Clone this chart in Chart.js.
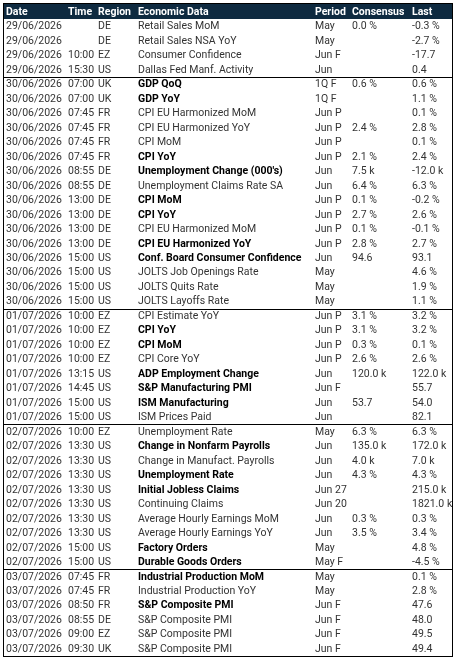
<!DOCTYPE html>
<html>
<head>
<meta charset="utf-8">
<script src="https://cdn.jsdelivr.net/npm/chart.js@4.4.1/dist/chart.umd.min.js"></script>
<style>
  html, body { margin: 0; padding: 0; background: #fff; }
  #wrap { width: 458px; height: 658px; }
</style>
</head>
<body>
<div id="wrap"><canvas id="c"></canvas></div>
<script>
const headers = ['Date', 'Time', 'Region', 'Economic Data', 'Period', 'Consensus', 'Last'];

const dates = [
    '29/06/2026','29/06/2026','29/06/2026','29/06/2026',
    '30/06/2026','30/06/2026','30/06/2026','30/06/2026','30/06/2026','30/06/2026','30/06/2026','30/06/2026',
    '30/06/2026','30/06/2026','30/06/2026','30/06/2026','30/06/2026','30/06/2026','30/06/2026','30/06/2026',
    '01/07/2026','01/07/2026','01/07/2026','01/07/2026','01/07/2026','01/07/2026','01/07/2026','01/07/2026',
    '02/07/2026','02/07/2026','02/07/2026','02/07/2026','02/07/2026','02/07/2026','02/07/2026','02/07/2026','02/07/2026','02/07/2026',
    '03/07/2026','03/07/2026','03/07/2026','03/07/2026','03/07/2026','03/07/2026'
];
const times = [
    '','','10:00','15:30',
    '07:00','07:00','07:45','07:45','07:45','07:45','08:55','08:55','13:00','13:00','13:00','13:00','15:00','15:00','15:00','15:00',
    '10:00','10:00','10:00','10:00','13:15','14:45','15:00','15:00',
    '10:00','13:30','13:30','13:30','13:30','13:30','13:30','13:30','15:00','15:00',
    '07:45','07:45','08:50','08:55','09:00','09:30'
];
const regions = [
    'DE','DE','EZ','US',
    'UK','UK','FR','FR','FR','FR','DE','DE','DE','DE','DE','DE','US','US','US','US',
    'EZ','EZ','EZ','EZ','US','US','US','US',
    'EZ','US','US','US','US','US','US','US','US','US',
    'FR','FR','FR','DE','EZ','UK'
];
const events = [
    'Retail Sales MoM','Retail Sales NSA YoY','Consumer Confidence','Dallas Fed Manf. Activity',
    'GDP QoQ','GDP YoY','CPI EU Harmonized MoM','CPI EU Harmonized YoY','CPI MoM','CPI YoY',
    'Unemployment Change (000\'s)','Unemployment Claims Rate SA','CPI MoM','CPI YoY','CPI EU Harmonized MoM',
    'CPI EU Harmonized YoY','Conf. Board Consumer Confidence','JOLTS Job Openings Rate','JOLTS Quits Rate','JOLTS Layoffs Rate',
    'CPI Estimate YoY','CPI YoY','CPI MoM','CPI Core YoY','ADP Employment Change','S&P Manufacturing PMI','ISM Manufacturing','ISM Prices Paid',
    'Unemployment Rate','Change in Nonfarm Payrolls','Change in Manufact. Payrolls','Unemployment Rate','Initial Jobless Claims',
    'Continuing Claims','Average Hourly Earnings MoM','Average Hourly Earnings YoY','Factory Orders','Durable Goods Orders',
    'Industrial Production MoM','Industrial Production YoY','S&P Composite PMI','S&P Composite PMI','S&P Composite PMI','S&P Composite PMI'
];
const important = [
    0,0,0,0,
    1,1,0,0,0,1,1,0,1,1,0,1,1,0,0,0,
    0,1,1,0,1,1,1,0,
    0,1,0,1,1,0,0,0,1,1,
    1,0,1,0,0,0
];
const periods = [
    'May','May','Jun F','Jun',
    '1Q F','1Q F','Jun P','Jun P','Jun P','Jun P','Jun','Jun','Jun P','Jun P','Jun P','Jun P','Jun','May','May','May',
    'Jun P','Jun P','Jun P','Jun P','Jun','Jun F','Jun','Jun',
    'May','Jun','Jun','Jun','Jun 27','Jun 20','Jun','Jun','May','May F',
    'May','May','Jun F','Jun F','Jun F','Jun F'
];
const consensus = [
    '0.0 %','','','',
    '0.6 %','','','2.4 %','','2.1 %','7.5 k','6.4 %','0.1 %','2.7 %','0.1 %','2.8 %','94.6','','','',
    '3.1 %','3.1 %','0.3 %','2.6 %','120.0 k','','53.7','',
    '6.3 %','135.0 k','4.0 k','4.3 %','','','0.3 %','3.5 %','','',
    '','','','','',''
];
const last = [
    '-0.3 %','-2.7 %','-17.7','0.4',
    '0.6 %','1.1 %','0.1 %','2.8 %','0.1 %','2.4 %','-12.0 k','6.3 %','-0.2 %','2.6 %','-0.1 %','2.7 %','93.1','4.6 %','1.9 %','1.1 %',
    '3.2 %','3.2 %','0.1 %','2.6 %','122.0 k','55.7','54.0','82.1',
    '6.3 %','172.0 k','7.0 k','4.3 %','215.0 k','1821.0 k','0.3 %','3.4 %','4.8 %','-4.5 %',
    '0.1 %','2.8 %','47.6','48.0','49.5','49.4'
];
// column starts, in x-scale units
const columnX = [3, 65, 95, 135, 312, 349, 409];

const rowLabels = dates.map((d, i) => String(i));
const FONT = '10.5px Roboto';

const tablePlugin = {
    id: 'table',
    afterDraw(chart) {
        const ctx = chart.ctx;
        const xs = chart.scales.x;
        const ys = chart.scales.y;
        const area = chart.chartArea;
        const left = xs.getPixelForValue(0);
        const right = xs.getPixelForValue(450);
        const step = ys.getPixelForValue(1) - ys.getPixelForValue(0);

        ctx.save();
        // header
        ctx.fillStyle = '#0e2a40';
        ctx.fillRect(left, 3, right - left, area.top - 3);
        ctx.fillStyle = '#fff';
        ctx.font = 'bold 10.5px Roboto';
        ctx.textBaseline = 'middle';
        headers.forEach((h, c) => ctx.fillText(h, xs.getPixelForValue(columnX[c]), (area.top + 3) / 2 + 1));

        // rows
        dates.forEach((d, i) => {
            const y = ys.getPixelForValue(i) + 0.5;
            const cells = [d, times[i], regions[i], events[i], periods[i], consensus[i], last[i]];
            cells.forEach((txt, c) => {
                const bold = c === 3 && important[i];
                ctx.font = (bold ? 'bold ' : '') + FONT;
                ctx.fillStyle = bold ? '#000' : '#333';
                ctx.fillText(txt, xs.getPixelForValue(columnX[c]), y);
            });
        });

        // frame and day separators
        ctx.strokeStyle = '#000';
        ctx.lineWidth = 1;
        ctx.strokeRect(left + 0.5, 3.5, right - left - 1, area.bottom - 3);
        dates.forEach((d, i) => {
            if (i > 0 && d !== dates[i - 1]) {
                const y = Math.round(ys.getPixelForValue(i) - step / 2) + 0.5;
                ctx.beginPath();
                ctx.moveTo(left, y);
                ctx.lineTo(right, y);
                ctx.stroke();
            }
        });
        ctx.restore();
    }
};

new Chart(document.getElementById('c'), {
    type: 'bar',
    data: {
        labels: rowLabels,
        datasets: [{ data: rowLabels.map(() => 0), backgroundColor: 'transparent' }]
    },
    options: {
        indexAxis: 'y',
        responsive: true,
        maintainAspectRatio: false,
        animation: false,
        layout: { padding: { top: 19, left: 3, right: 5, bottom: 2 } },
        scales: {
            x: { type: 'linear', min: 0, max: 450, display: false },
            y: { type: 'category', display: false, offset: true }
        },
        plugins: { legend: { display: false }, tooltip: { enabled: false } }
    },
    plugins: [tablePlugin]
});
</script>
</body>
</html>
